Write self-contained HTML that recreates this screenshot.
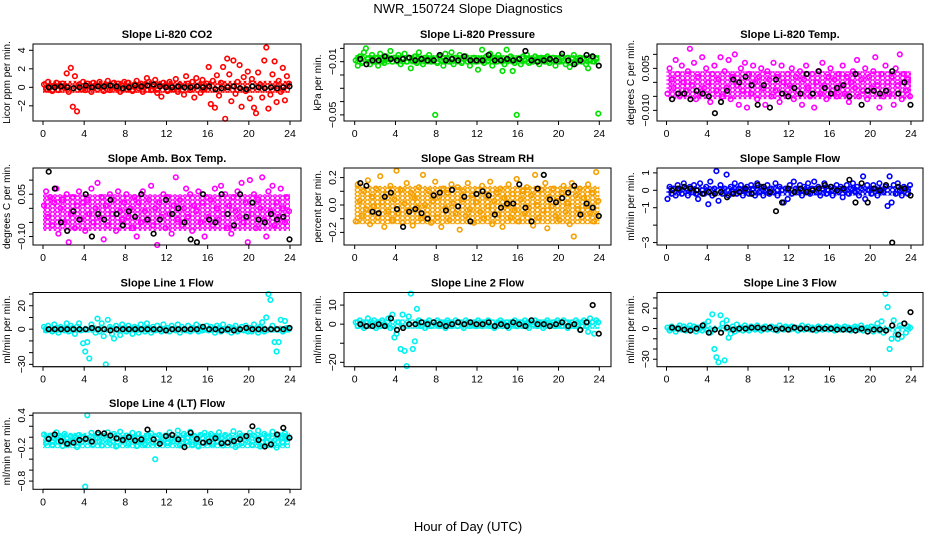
<!DOCTYPE html>
<html><head><meta charset="utf-8"><style>
html,body{margin:0;padding:0;background:#fff;}
svg{display:block;font-family:"Liberation Sans",Arial,sans-serif;}
</style></head><body>
<svg id="chart" width="936" height="540" viewBox="0 0 936 540" xmlns="http://www.w3.org/2000/svg">
<defs id="defs"></defs>
<text x="468" y="13" text-anchor="middle" font-size="13">NWR_150724  Slope Diagnostics</text>
<text x="468" y="531" text-anchor="middle" font-size="13">Hour of Day (UTC)</text>
</svg>
<script>
// ---- data (values in axis units listed per panel) ----
const xTicks = [0,4,8,12,16,20,24];

const co2Col = [0.3,-0.2,0.6,0,-0.4,0.2,0.5,-0.3,0.1,0.4,-0.1,1.5,-0.5,2.1,-2.1,1.2,-2.6,0.3,-0.2,0.6,
-0.3,0.4,0.1,-0.5,0.5,0.2,-0.2,0.6,0,-0.4,0.3,0.7,-0.3,0.1,0.5,-0.1,0.4,-0.5,0.2,0.6,
-0.2,0.5,0.1,-0.4,0.3,0.7,-0.1,0.4,-0.5,0.2,1,0.6,-0.3,0.1,0.8,-0.6,0.3,-1,0.5,0.2,
-0.4,0.6,0.2,-0.2,0.9,-0.5,0.3,0.1,-0.8,1.2,0.4,-0.3,0.6,-1.1,1.0,0.2,-0.6,0.8,-0.2,0.4,
2.2,-1.8,0.7,-2.2,1.3,-0.9,0.5,2.2,-3.4,3.1,1.4,-1.5,2.9,-0.7,0.6,2.4,-2.1,1.1,-0.4,1.7,
-1.2,0.9,-2.2,-2.8,1.6,0.3,-1.1,2.9,4.3,-2.3,-0.8,1.4,2.8,-1.6,0.7,-0.5,2.1,-1.4,1.2,0.4];
const co2Blk = [0,0,0.1,0,-0.1,0,0.2,0,0.1,0.1,0.2,0.1,-0.1,0,0.2,0.1,0.2,0.3,0.1,0,0,0.1,0,0,0.1,0,0.1,-0.2,-0.1,0,0.1,-0.1,-0.2,0.1,0,-0.1,0,-0.1,0,0.1];
const co2Band = [-0.6,0.7];

const presCol = [-9,-13,-6,-11,-3,0,-8,-12,-5,-10,-7,-13,-4,-9,-11,-6,-8,-2,-10,-7,
-9,-5,-12,-8,-4,-10,-7,-15,-9,-6,-11,-3,-8,-12,-7,-9,-5,-10,-8,-50,
-11,-6,-9,-13,-4,-8,-10,-3,-12,-7,-9,-5,-11,-8,-6,-10,-13,-9,-7,-10,
-16,-8,-1,-11,-6,-9,-4,-13,-7,-10,-5,-8,-17,-12,-1,-9,-6,-17,-11,-50,
-8,-12,-6,-9,-5,-11,-8,-10,-6,-9,-12,-7,-8,-10,-6,-11,-9,-7,-13,-8,
-10,-6,-9,-12,-7,-14,-8,-5,-11,-9,-7,-10,-8,-12,-15,-9,-6,-10,-8,-49];
const presBlk = [-8,-12,-9,-9,-6,-8,-9,-8,-7,-9,-8,-9,-9,-5,-9,-8,-9,-6,-9,-9,-9,-5,-9,-9,-8,-9,-8,-2,-9,-10,-9,-8,-9,-4,-9,-12,-9,-5,-6,-13];
const presBand = [-12,-5];

const tempCol = [-4,5,1,-2,8,3,-5,6,0,-3,4,12,-1,7,-6,2,-4,9,-2,5,
0,-7,3,6,-3,1,9,-5,4,-2,8,-6,2,10,-1,-8,5,-3,7,-9,
3,-4,6,0,-6,2,5,-2,-8,4,1,-5,7,-3,2,-7,6,0,-4,3,
-1,5,-6,2,-3,4,-8,1,6,-2,-5,3,-9,0,4,-4,7,-1,-6,2,
5,-3,1,-5,3,-1,6,-4,2,-7,0,4,-2,8,-5,1,-3,5,-6,2,
-2,4,9,-1,-9,3,-5,6,0,-4,2,-8,5,-1,10,-6,3,-3,1,-5];
const tempBlk = [-6,-4,-4,-6,-3,-4,-5,-11,-7,-3,1,0,2,-1,-8,-1,-9,1,-4,-5,-2,-4,3,-4,4,-2,-4,-2,-1,-5,3,-8,-3,-3,-4,-3,4,-4,0,-8];
const tempBand = [-6,4];

const ambCol = [1,6,-3,4,-6,2,7,-9,0,3,-5,5,-12,-2,4,-7,1,6,-4,2,
-8,3,-2,7,-5,0,9,-3,4,-11,1,-6,5,-2,3,-8,6,-1,-4,2,
5,-3,0,-7,4,-10,2,-5,6,-1,-4,3,8,-6,0,-13,2,-3,5,-7,
4,-2,-9,1,11,-4,3,-6,0,7,-3,5,-8,1,-1,6,-5,2,-10,4,
-3,3,-6,7,0,-4,8,-2,5,-7,1,-9,4,-1,6,-3,9,-5,2,-12,
10,-2,5,-7,3,0,11,-4,-10,6,-1,8,-6,2,-3,7,0,-5,4,-1];
const ambBlk = [13,7,-5,-8,-1,-4,5,-10,-2,-4,3,-2,-6,-1,-3,5,-4,-9,-4,3,-2,0,-5,-11,-12,5,-4,-5,5,-2,-6,5,-3,2,-4,-5,-2,-4,-3,-11];
const ambBand = [-8,5];

const rhCol = [-12,15,3,-8,10,-3,18,-14,6,-1,12,-9,21,2,-16,8,-5,14,-11,4,
25,-6,11,-13,1,16,-4,9,-15,5,-2,13,-10,22,0,-7,10,-13,3,17,
-9,6,-16,12,-2,9,-11,15,1,-6,13,-18,4,10,-8,16,-3,7,-13,2,
11,-5,14,-10,6,-1,17,-14,3,9,-7,12,-16,5,0,15,-9,8,-4,19,
-12,4,10,-6,13,-2,7,-15,22,0,-9,11,-4,16,-17,6,-1,12,-8,3,
-11,9,14,-5,1,-14,16,-23,7,-3,12,-9,5,-1,15,-6,9,-12,24,3];
const rhBlk = [16,14,-5,-6,6,9,-3,-16,-5,-3,-6,-10,7,9,-4,11,-1,6,-12,8,10,7,-7,-2,1,1,15,-2,-12,12,22,4,2,5,9,14,-7,1,-2,-8];
const rhBand = [-14,14];

const flowCol = [-5,2,-2,1,-3,3,0,-2,4,1,-3,2,-1,3,-2,-5,4,0,-2,2,
-8,5,-3,1,11,-6,3,-2,1,9,-3,2,-1,4,-2,1,3,-3,0,2,
-2,3,1,-3,4,-1,2,-3,0,3,-2,1,-1,4,-3,2,0,-7,1,-5,
3,-2,5,1,-1,3,-3,2,0,4,-2,1,5,-1,2,-3,1,4,-2,0,
2,-3,1,3,-1,2,-4,0,3,-2,1,4,-1,2,-3,1,8,-5,3,0,
-2,3,1,-3,4,0,-1,2,-9,8,-7,3,-2,4,0,-3,2,1,-2,3];
const flowBlk = [0,1,2,1,0,-2,-1,-2,-1,-4,-2,-1,1,-2,3,2,-1,-12,-7,1,-1,1,-1,0,1,3,2,0,1,6,-7,4,-7,1,0,3,-30,2,1,-3];
const flowBand = [-3,2.5];

const l1Col = [2,-1,3,0,-2,4,1,-3,2,0,-1,5,-2,3,1,-4,2,5,-1,-12,
-19,-11,-25,4,1,-3,9,-2,5,-6,-30,8,2,-4,-8,3,-1,-5,4,1,
-2,3,0,-4,2,1,-3,4,0,-2,5,1,-3,2,-1,3,0,-2,4,-1,
1,-2,3,0,-1,4,-3,2,0,-1,3,-2,1,0,4,-2,2,-1,0,3,
-1,2,0,-3,3,1,-2,4,0,-1,2,-3,1,3,-2,0,2,-1,3,-2,
1,-2,4,0,-3,2,6,-2,10,30,25,3,-11,-19,-11,8,-2,7,1,0];
const l1Blk = [0,0,0,0,0,0,0,1,0,0,-1,0,0,0,0,0,0,0,0,-1,0,0,0,0,0,2,0,0,-1,0,-1,0,1,0,0,0,0,0,0,1];
const l1Band = [-3,3];

const l2Col = [1,-1,2,0,-2,1,3,-1,0,2,-2,1,-1,2,0,-1,3,-2,5,-7,
-5,1,-13,5,-14,-22,4,16,-13,-9,8,2,-1,1,-2,0,2,-1,1,0,
2,-1,1,0,-2,2,1,-1,0,2,-1,1,0,-2,2,1,-1,0,1,-1,
2,0,-1,1,0,2,-1,1,-2,0,1,2,-1,0,1,-2,1,0,2,-1,
0,1,-1,2,0,-2,1,0,2,-1,1,0,-2,1,2,-1,0,1,-1,2,
0,-1,2,1,-2,0,1,-1,2,0,-3,1,2,-1,-4,3,1,-5,2,1];
const l2Blk = [0,-1,-1,0,-1,3,-3,-2,0,0,1,0,1,0,-1,0,1,0,1,0,0,1,-1,0,-1,1,0,-1,2,0,0,-1,0,1,-1,0,-3,1,10,-5];
const l2Band = [-2.5,2.5];

const l3Col = [1,-2,2,0,-3,1,3,-1,2,-2,0,3,-1,2,-3,1,0,-2,4,-1,
7,-4,14,-20,-28,-33,13,5,-31,8,-9,-5,2,-3,4,-1,1,-2,3,0,
-2,2,1,-1,3,0,-2,1,2,-1,0,2,-1,1,-2,3,0,-1,2,1,
-1,2,0,1,-2,1,3,-1,0,2,-1,1,0,-2,2,1,-1,0,2,-1,
1,0,-2,2,1,-1,0,2,-1,1,-2,0,2,1,-1,3,-2,0,1,-1,
2,-3,1,5,-2,7,-4,34,21,-20,-10,8,-6,-10,3,-8,5,-4,2,1];
const l3Blk = [1,0,-1,-2,0,3,-4,-1,-4,1,-1,0,0,1,1,0,1,-1,0,-1,1,0,0,-1,0,0,0,-1,-1,-1,-2,0,-3,-1,-1,-2,3,-6,5,16];
const l3Band = [-3,3];

const l4Col = [5,-10,-4,3,-14,-2,9,-8,0,-16,6,-3,-12,2,-6,-1,-18,4,-9,1,
-90,40,-5,8,-13,-1,5,-8,-15,2,-4,9,-11,0,6,-17,-3,10,-7,-2,
3,-12,-5,8,-1,-16,6,-8,-3,-14,2,-6,7,-10,-40,-2,4,-9,-5,3,
-11,9,-3,-7,0,12,-15,-4,6,-8,-1,10,-13,2,-6,-17,4,-2,8,-10,
-3,6,-12,1,-7,9,-2,-15,4,-9,0,-5,11,-18,-3,7,-11,2,-6,-1,
8,-14,3,-4,12,-17,-2,6,-9,1,-13,10,-6,-19,4,-1,-10,7,-3,0];
const l4Blk = [-3,5,-7,-12,-10,-5,-3,-8,8,7,3,-2,-5,0,-6,-4,14,-4,-12,2,4,-4,-18,8,-3,-10,-8,-2,-11,-10,-7,-4,2,20,-5,-17,-13,5,17,-1];
const l4Band = [-20,8];

const co2Ticks=[-2,0,2,4], co2Labels=["-2","0","2","4"];
const presTicks=[0,-10,-20,-30,-40,-50], presLabels=["","-0.01","","","","-0.05"];
const tempTicks=[10,5,0,-5,-10], tempLabels=["","0.005","","","-0.010"];
const ambTicks=[10,5,0,-5,-10], ambLabels=["","0.05","","","-0.10"];
const rhTicks=[20,10,0,-10,-20], rhLabels=["0.2","","0.0","","-0.2"];
const flowTicks=[10,0,-10,-20,-30], flowLabels=["1","0","-1","","-3"];
const l1Ticks=[30,20,10,0,-10,-20,-30], l1Labels=["","20","","0","","","-30"];
const l2Ticks=[10,0,-10,-20], l2Labels=["10","0","","-20"];
const l3Ticks=[30,20,10,0,-10,-20,-30], l3Labels=["","20","","0","","","-30"];
const l4Ticks=[40,20,0,-20,-40,-60,-80], l4Labels=["0.4","","","-0.2","","","-0.8"];

// ---- layout ----
const NS="http://www.w3.org/2000/svg";
const svg=document.getElementById('chart');
const defs=document.getElementById('defs');
const cols=[{l:33,r:301,x0:43,x1:290},{l:344,r:611,x0:354.7,x1:599.3},{l:657,r:923,x0:666.5,x1:911}];
const rows=[{t:44,b:121},{t:168,b:245},{t:292.5,b:366.7},{t:413,b:489.3}];
const panels=[
 {c:0,r:0,title:"Slope Li-820 CO2",yl:"Licor ppm per min.",top:4.68,bot:-3.64,col:"#ff0000",cv:co2Col,bv:co2Blk,band:co2Band,tk:co2Ticks,tl:co2Labels,name:"co2"},
 {c:1,r:0,title:"Slope Li-820 Pressure",yl:"kPa per min.",top:3.3,bot:-54.6,col:"#00e000",cv:presCol,bv:presBlk,band:presBand,tk:presTicks,tl:presLabels,name:"pressure"},
 {c:2,r:0,title:"Slope Li-820 Temp.",yl:"degrees C per min.",top:13.7,bot:-13.8,col:"#ff00ff",cv:tempCol,bv:tempBlk,band:tempBand,tk:tempTicks,tl:tempLabels,name:"li820-temp"},
 {c:0,r:1,title:"Slope Amb. Box Temp.",yl:"degrees C per min.",top:14.3,bot:-13.0,col:"#ff00ff",cv:ambCol,bv:ambBlk,band:ambBand,tk:ambTicks,tl:ambLabels,name:"amb-box-temp"},
 {c:1,r:1,title:"Slope Gas Stream RH",yl:"percent per min.",top:27,bot:-29.2,col:"#f5a000",cv:rhCol,bv:rhBlk,band:rhBand,tk:rhTicks,tl:rhLabels,name:"gas-stream-rh"},
 {c:2,r:1,title:"Slope Sample Flow",yl:"ml/min per min.",top:12.8,bot:-31.4,col:"#0000ff",cv:flowCol,bv:flowBlk,band:flowBand,tk:flowTicks,tl:flowLabels,name:"sample-flow"},
 {c:0,r:2,title:"Slope Line 1 Flow",yl:"ml/min per min.",top:31.3,bot:-32,col:"#00f0f0",cv:l1Col,bv:l1Blk,band:l1Band,tk:l1Ticks,tl:l1Labels,name:"line1-flow"},
 {c:1,r:2,title:"Slope Line 2 Flow",yl:"ml/min per min.",top:16.6,bot:-22.3,col:"#00f0f0",cv:l2Col,bv:l2Blk,band:l2Band,tk:l2Ticks,tl:l2Labels,name:"line2-flow"},
 {c:2,r:2,title:"Slope Line 3 Flow",yl:"ml/min per min.",top:35.3,bot:-37.3,col:"#00f0f0",cv:l3Col,bv:l3Blk,band:l3Band,tk:l3Ticks,tl:l3Labels,name:"line3-flow"},
 {c:0,r:3,title:"Slope Line 4 (LT) Flow",yl:"ml/min per min.",top:44.2,bot:-95,col:"#00f0f0",cv:l4Col,bv:l4Blk,band:l4Band,tk:l4Ticks,tl:l4Labels,name:"line4-flow"}
];
function mk(tag,attrs,parent){const e=document.createElementNS(NS,tag);for(const k in attrs)e.setAttribute(k,attrs[k]);(parent||svg).appendChild(e);return e;}

panels.forEach((p,pi)=>{
 const C=cols[p.c],R=rows[p.r];
 const g=mk('g',{});
 
 
 const xs=h=>C.x0+(h/24)*(C.x1-C.x0);
 const ys=v=>R.t+(p.top-v)/(p.top-p.bot)*(R.b-R.t);
 // dense band of overlapping samples (pattern of open circles)
 const pat=mk('pattern',{id:'pat'+pi,width:5,height:4,patternUnits:'userSpaceOnUse'},defs);
 mk('circle',{cx:2.5,cy:2,r:2,fill:'none',stroke:p.col,'stroke-width':1.3},pat);
 const bTop=ys(p.band[1]), bBot=ys(p.band[0]);
 const band=mk('rect',{x:xs(0),y:bTop,width:xs(24)-xs(0),height:bBot-bTop,fill:`url(#pat${pi})`},g);
 
 
 // colored points
 const n=p.cv.length;
 p.cv.forEach((v,i)=>{
  const h=0.1+i*23.8/(n-1);
  const c=mk('circle',{cx:xs(h).toFixed(1),cy:ys(v).toFixed(1),r:2.3,fill:'none',stroke:p.col,'stroke-width':1.6},g);
  
  
 });
 const m=p.bv.length;
 p.bv.forEach((v,i)=>{
  const h=0.55+i*23.4/(m-1);
  const c=mk('circle',{cx:xs(h).toFixed(1),cy:ys(v).toFixed(1),r:2.3,fill:'none',stroke:'#000','stroke-width':1.6},g);
  
  
 });
 const box=mk('rect',{x:C.l,y:R.t,width:C.r-C.l,height:R.b-R.t,fill:'none',stroke:'#000','stroke-width':1},g);
 
 
 const t=mk('text',{x:(C.l+C.r)/2,y:R.t-6,'text-anchor':'middle','font-size':11,'font-weight':'bold'},g);
 t.textContent=p.title;
 
 
 const ylx=C.l-23, ymid=(R.t+R.b)/2;
 const yl=mk('text',{x:ylx,y:ymid,'text-anchor':'middle','font-size':10,transform:`rotate(-90 ${ylx} ${ymid})`},g);
 yl.textContent=p.yl;
 
 
 const ymin=Math.min(...p.tk), ymax=Math.max(...p.tk);
 const ya=mk('line',{x1:C.l,x2:C.l,y1:ys(ymax),y2:ys(ymin),stroke:'#000'},g);
 
 
 p.tk.forEach((v,i)=>{
  const y=ys(v);
  mk('line',{x1:C.l-4,x2:C.l,y1:y,y2:y,stroke:'#000'},g);
  if(p.tl[i]){
   const lx=C.l-8;
   const tl=mk('text',{x:lx,y:y,'text-anchor':'middle','font-size':10.5,transform:`rotate(-90 ${lx} ${y})`},g);
   tl.textContent=p.tl[i].replace('-','\u2212');
   
   
  }
 });
 const xa=mk('line',{x1:xs(0),x2:xs(24),y1:R.b,y2:R.b,stroke:'#000'},g);
 
 
 xTicks.forEach(h=>{
  const x=xs(h);
  mk('line',{x1:x,x2:x,y1:R.b,y2:R.b+4,stroke:'#000'},g);
  const xl=mk('text',{x:x,y:R.b+16,'text-anchor':'middle','font-size':10.5},g);
  xl.textContent=h;
  
  
 });
});
</script>
</body></html>
